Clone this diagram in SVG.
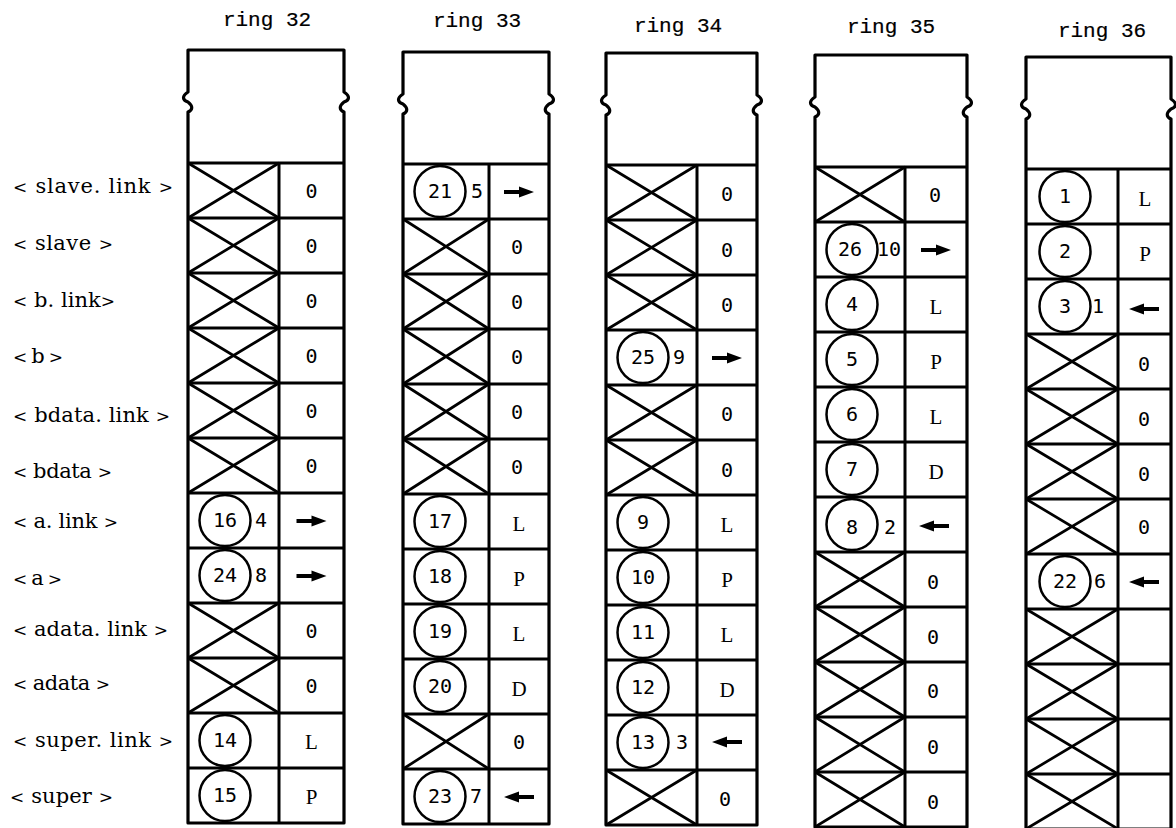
<svg xmlns="http://www.w3.org/2000/svg" xmlns:xlink="http://www.w3.org/1999/xlink" width="1176" height="828" viewBox="0 0 1176 828">
<style>
.frame{fill:none;stroke:#000;stroke-width:3.2;stroke-linejoin:round}
.grid{fill:none;stroke:#000;stroke-width:3}
.x{fill:none;stroke:#000;stroke-width:2.7}
.c{fill:none;stroke:#000;stroke-width:2.5}
.n{font-family:"DejaVu Sans Mono",monospace;font-size:20px;text-anchor:middle;fill:#000}
.v{font-family:"Liberation Serif",serif;font-size:21px;text-anchor:middle;fill:#000}
.z{font-family:"DejaVu Sans Mono",monospace;font-size:20px;text-anchor:middle;fill:#000}
.lbl{font-family:"DejaVu Serif",serif;font-size:21px;fill:#000}
.br{font-size:17px}
.hd{font-family:"Liberation Mono",monospace;font-size:21px;text-anchor:middle;fill:#000;stroke:#000;stroke-width:0.2}
.ar{fill:#000}
</style>
<defs>
<path id="x91" class="x" d="M0,0 L91,55 M0,55 L91,0"/>
<path id="x86" class="x" d="M0,0 L86,55 M0,55 L86,0"/>
<path id="x90" class="x" d="M0,0 L90,55 M0,55 L90,0"/>
<path id="x92" class="x" d="M0,0 L92,55 M0,55 L92,0"/>
<circle id="cir" class="c" cx="37" cy="27.5" r="25.5"/>
<path id="ar" class="ar" d="M-15,-2 H0 V-5.5 L15,0 L0,5.5 V2 H-15 Z"/>
<path id="al" class="ar" d="M15,-2 H0 V-5.5 L-15,0 L0,5.5 V2 H15 Z"/>
</defs>
<rect width="1176" height="828" fill="#fff"/>

<g id="labels">
<text class="lbl" x="13" y="193" textLength="160" lengthAdjust="spacing"><tspan class="br">&lt;</tspan> slave. link <tspan class="br">&gt;</tspan></text>
<text class="lbl" x="13" y="250" textLength="100" lengthAdjust="spacing"><tspan class="br">&lt;</tspan> slave <tspan class="br">&gt;</tspan></text>
<text class="lbl" x="13" y="307" textLength="102" lengthAdjust="spacing"><tspan class="br">&lt;</tspan> b. link<tspan class="br">&gt;</tspan></text>
<text class="lbl" x="13" y="363" textLength="50" lengthAdjust="spacing"><tspan class="br">&lt;</tspan> b <tspan class="br">&gt;</tspan></text>
<text class="lbl" x="13" y="422" textLength="157" lengthAdjust="spacing"><tspan class="br">&lt;</tspan> bdata. link <tspan class="br">&gt;</tspan></text>
<text class="lbl" x="13" y="478" textLength="99" lengthAdjust="spacing"><tspan class="br">&lt;</tspan> bdata <tspan class="br">&gt;</tspan></text>
<text class="lbl" x="13" y="528" textLength="105" lengthAdjust="spacing"><tspan class="br">&lt;</tspan> a. link <tspan class="br">&gt;</tspan></text>
<text class="lbl" x="13" y="585" textLength="49" lengthAdjust="spacing"><tspan class="br">&lt;</tspan> a <tspan class="br">&gt;</tspan></text>
<text class="lbl" x="13" y="636" textLength="155" lengthAdjust="spacing"><tspan class="br">&lt;</tspan> adata. link <tspan class="br">&gt;</tspan></text>
<text class="lbl" x="13" y="690" textLength="97" lengthAdjust="spacing"><tspan class="br">&lt;</tspan> adata <tspan class="br">&gt;</tspan></text>
<text class="lbl" x="13" y="747" textLength="160" lengthAdjust="spacing"><tspan class="br">&lt;</tspan> super. link <tspan class="br">&gt;</tspan></text>
<text class="lbl" x="10" y="803" textLength="103" lengthAdjust="spacing"><tspan class="br">&lt;</tspan> super <tspan class="br">&gt;</tspan></text>
</g>

<g id="connectors"></g>

<!-- ring 32 -->
<g id="ring32" transform="translate(188,163)">
<text class="hd" x="79" y="-137">ring 32</text>
<path class="frame" d="M0,660 V-51 C5,-53 5,-57 0,-61 C-6,-63 -6,-67 0,-71 V-113 H156 V-71 C162,-67 162,-63 156,-61 C151,-57 151,-53 156,-51 V660 Z"/>
<path class="grid" d="M0,0 H156 M0,55 H156 M0,110 H156 M0,165 H156 M0,220 H156 M0,275 H156 M0,330 H156 M0,385 H156 M0,440 H156 M0,495 H156 M0,550 H156 M0,605 H156 M91,0 V660"/>
<g transform="translate(0,0)"><use xlink:href="#x91"/><text class="z" x="123.5" y="35">0</text></g>
<g transform="translate(0,55)"><use xlink:href="#x91"/><text class="z" x="123.5" y="35">0</text></g>
<g transform="translate(0,110)"><use xlink:href="#x91"/><text class="z" x="123.5" y="35">0</text></g>
<g transform="translate(0,165)"><use xlink:href="#x91"/><text class="z" x="123.5" y="35">0</text></g>
<g transform="translate(0,220)"><use xlink:href="#x91"/><text class="z" x="123.5" y="35">0</text></g>
<g transform="translate(0,275)"><use xlink:href="#x91"/><text class="z" x="123.5" y="35">0</text></g>
<g transform="translate(0,330)"><use xlink:href="#cir"/><text class="n" x="37" y="34">16</text><text class="n" x="73" y="34">4</text><use xlink:href="#ar" x="123.5" y="28"/></g>
<g transform="translate(0,385)"><use xlink:href="#cir"/><text class="n" x="37" y="34">24</text><text class="n" x="73" y="34">8</text><use xlink:href="#ar" x="123.5" y="28"/></g>
<g transform="translate(0,440)"><use xlink:href="#x91"/><text class="z" x="123.5" y="35">0</text></g>
<g transform="translate(0,495)"><use xlink:href="#x91"/><text class="z" x="123.5" y="35">0</text></g>
<g transform="translate(0,550)"><use xlink:href="#cir"/><text class="n" x="37" y="34">14</text><text class="v" x="123.5" y="36">L</text></g>
<g transform="translate(0,605)"><use xlink:href="#cir"/><text class="n" x="37" y="34">15</text><text class="v" x="123.5" y="36">P</text></g>
</g>

<!-- ring 33 -->
<g id="ring33" transform="translate(403,164)">
<text class="hd" x="74" y="-137">ring 33</text>
<path class="frame" d="M0,660 V-50 C5,-52 5,-56 0,-60 C-6,-62 -6,-66 0,-70 V-112 H146 V-70 C152,-66 152,-62 146,-60 C141,-56 141,-52 146,-50 V660 Z"/>
<path class="grid" d="M0,0 H146 M0,55 H146 M0,110 H146 M0,165 H146 M0,220 H146 M0,275 H146 M0,330 H146 M0,385 H146 M0,440 H146 M0,495 H146 M0,550 H146 M0,605 H146 M86,0 V660"/>
<g transform="translate(0,0)"><use xlink:href="#cir"/><text class="n" x="37" y="34">21</text><text class="n" x="74" y="34">5</text><use xlink:href="#ar" x="116" y="28"/></g>
<g transform="translate(0,55)"><use xlink:href="#x86"/><text class="z" x="114" y="35">0</text></g>
<g transform="translate(0,110)"><use xlink:href="#x86"/><text class="z" x="114" y="35">0</text></g>
<g transform="translate(0,165)"><use xlink:href="#x86"/><text class="z" x="114" y="35">0</text></g>
<g transform="translate(0,220)"><use xlink:href="#x86"/><text class="z" x="114" y="35">0</text></g>
<g transform="translate(0,275)"><use xlink:href="#x86"/><text class="z" x="114" y="35">0</text></g>
<g transform="translate(0,330)"><use xlink:href="#cir"/><text class="n" x="37" y="34">17</text><text class="v" x="116" y="37">L</text></g>
<g transform="translate(0,385)"><use xlink:href="#cir"/><text class="n" x="37" y="34">18</text><text class="v" x="116" y="37">P</text></g>
<g transform="translate(0,440)"><use xlink:href="#cir"/><text class="n" x="37" y="34">19</text><text class="v" x="116" y="37">L</text></g>
<g transform="translate(0,495)"><use xlink:href="#cir"/><text class="n" x="37" y="34">20</text><text class="v" x="116" y="37">D</text></g>
<g transform="translate(0,550)"><use xlink:href="#x86"/><text class="z" x="116" y="35">0</text></g>
<g transform="translate(0,605)"><use xlink:href="#cir"/><text class="n" x="37" y="34">23</text><text class="n" x="73" y="34">7</text><use xlink:href="#al" x="116" y="28"/></g>
</g>

<!-- ring 34 -->
<g id="ring34" transform="translate(606,165)">
<text class="hd" x="72" y="-133">ring 34</text>
<path class="frame" d="M0,660 V-50 C5,-52 5,-56 0,-60 C-6,-62 -6,-66 0,-70 V-112 H151 V-70 C157,-66 157,-62 151,-60 C146,-56 146,-52 151,-50 V660 Z"/>
<path class="grid" d="M0,0 H151 M0,55 H151 M0,110 H151 M0,165 H151 M0,220 H151 M0,275 H151 M0,330 H151 M0,385 H151 M0,440 H151 M0,495 H151 M0,550 H151 M0,605 H151 M91,0 V660"/>
<g transform="translate(0,0)"><use xlink:href="#x91"/><text class="z" x="121" y="36">0</text></g>
<g transform="translate(0,55)"><use xlink:href="#x91"/><text class="z" x="121" y="37">0</text></g>
<g transform="translate(0,110)"><use xlink:href="#x91"/><text class="z" x="121" y="37">0</text></g>
<g transform="translate(0,165)"><use xlink:href="#cir"/><text class="n" x="37" y="34">25</text><text class="n" x="73" y="34">9</text><use xlink:href="#ar" x="121" y="28"/></g>
<g transform="translate(0,220)"><use xlink:href="#x91"/><text class="z" x="121" y="36">0</text></g>
<g transform="translate(0,275)"><use xlink:href="#x91"/><text class="z" x="121" y="37">0</text></g>
<g transform="translate(0,330)"><use xlink:href="#cir"/><text class="n" x="37" y="34">9</text><text class="v" x="121" y="37">L</text></g>
<g transform="translate(0,385)"><use xlink:href="#cir"/><text class="n" x="37" y="34">10</text><text class="v" x="121" y="37">P</text></g>
<g transform="translate(0,440)"><use xlink:href="#cir"/><text class="n" x="37" y="34">11</text><text class="v" x="121" y="37">L</text></g>
<g transform="translate(0,495)"><use xlink:href="#cir"/><text class="n" x="37" y="34">12</text><text class="v" x="121" y="37">D</text></g>
<g transform="translate(0,550)"><use xlink:href="#cir"/><text class="n" x="37" y="34">13</text><text class="n" x="76" y="34">3</text><use xlink:href="#al" x="121" y="27"/></g>
<g transform="translate(0,605)"><use xlink:href="#x91"/><text class="z" x="119" y="36">0</text></g>
</g>

<!-- ring 35 -->
<g id="ring35" transform="translate(815,167)">
<text class="hd" x="76" y="-134">ring 35</text>
<path class="frame" d="M0,660 V-50 C5,-52 5,-56 0,-60 C-6,-62 -6,-66 0,-70 V-112 H152 V-70 C158,-66 158,-62 152,-60 C147,-56 147,-52 152,-50 V660 Z"/>
<path class="grid" d="M0,0 H152 M0,55 H152 M0,110 H152 M0,165 H152 M0,220 H152 M0,275 H152 M0,330 H152 M0,385 H152 M0,440 H152 M0,495 H152 M0,550 H152 M0,605 H152 M90,0 V660"/>
<g transform="translate(0,0)"><use xlink:href="#x90"/><text class="z" x="120" y="35">0</text></g>
<g transform="translate(0,55)"><use xlink:href="#cir"/><text class="n" x="35" y="34">26</text><text class="n" x="74" y="34">10</text><use xlink:href="#ar" x="121" y="28"/></g>
<g transform="translate(0,110)"><use xlink:href="#cir"/><text class="n" x="37" y="34">4</text><text class="v" x="121" y="37">L</text></g>
<g transform="translate(0,165)"><use xlink:href="#cir"/><text class="n" x="37" y="34">5</text><text class="v" x="121" y="37">P</text></g>
<g transform="translate(0,220)"><use xlink:href="#cir"/><text class="n" x="37" y="34">6</text><text class="v" x="121" y="37">L</text></g>
<g transform="translate(0,275)"><use xlink:href="#cir"/><text class="n" x="37" y="34">7</text><text class="v" x="121" y="37">D</text></g>
<g transform="translate(0,330)"><use xlink:href="#cir"/><text class="n" x="37" y="37">8</text><text class="n" x="75" y="37">2</text><use xlink:href="#al" x="119" y="29"/></g>
<g transform="translate(0,385)"><use xlink:href="#x90"/><text class="z" x="118" y="37">0</text></g>
<g transform="translate(0,440)"><use xlink:href="#x90"/><text class="z" x="118" y="37">0</text></g>
<g transform="translate(0,495)"><use xlink:href="#x90"/><text class="z" x="118" y="36">0</text></g>
<g transform="translate(0,550)"><use xlink:href="#x90"/><text class="z" x="118" y="37">0</text></g>
<g transform="translate(0,605)"><use xlink:href="#x90"/><text class="z" x="118" y="37">0</text></g>
</g>

<!-- ring 36 -->
<g id="ring36" transform="translate(1026,169)">
<text class="hd" x="76" y="-132">ring 36</text>
<path class="frame" d="M0,660 V-50 C5,-52 5,-56 0,-60 C-6,-62 -6,-66 0,-70 V-112 H145 V-70 C151,-66 151,-62 145,-60 C140,-56 140,-52 145,-50 V660 Z"/>
<path class="grid" d="M0,0 H145 M0,55 H145 M0,110 H145 M0,165 H145 M0,220 H145 M0,275 H145 M0,330 H145 M0,385 H145 M0,440 H145 M0,495 H145 M0,550 H145 M0,605 H145 M92,0 V660"/>
<g transform="translate(0,0)"><use xlink:href="#cir" x="2"/><text class="n" x="39" y="34">1</text><text class="v" x="119" y="37">L</text></g>
<g transform="translate(0,55)"><use xlink:href="#cir" x="2"/><text class="n" x="39" y="34">2</text><text class="v" x="119" y="37">P</text></g>
<g transform="translate(0,110)"><use xlink:href="#cir" x="2"/><text class="n" x="39" y="34">3</text><text class="n" x="72" y="34">1</text><use xlink:href="#al" x="118" y="30"/></g>
<g transform="translate(0,165)"><use xlink:href="#x92"/><text class="z" x="118" y="37">0</text></g>
<g transform="translate(0,220)"><use xlink:href="#x92"/><text class="z" x="118" y="37">0</text></g>
<g transform="translate(0,275)"><use xlink:href="#x92"/><text class="z" x="118" y="37">0</text></g>
<g transform="translate(0,330)"><use xlink:href="#x92"/><text class="z" x="118" y="35">0</text></g>
<g transform="translate(0,385)"><use xlink:href="#cir" x="2"/><text class="n" x="39" y="34">22</text><text class="n" x="74" y="34">6</text><use xlink:href="#al" x="118" y="28"/></g>
<g transform="translate(0,440)"><use xlink:href="#x92"/></g>
<g transform="translate(0,495)"><use xlink:href="#x92"/></g>
<g transform="translate(0,550)"><use xlink:href="#x92"/></g>
<g transform="translate(0,605)"><use xlink:href="#x92"/></g>
</g>
</svg>
